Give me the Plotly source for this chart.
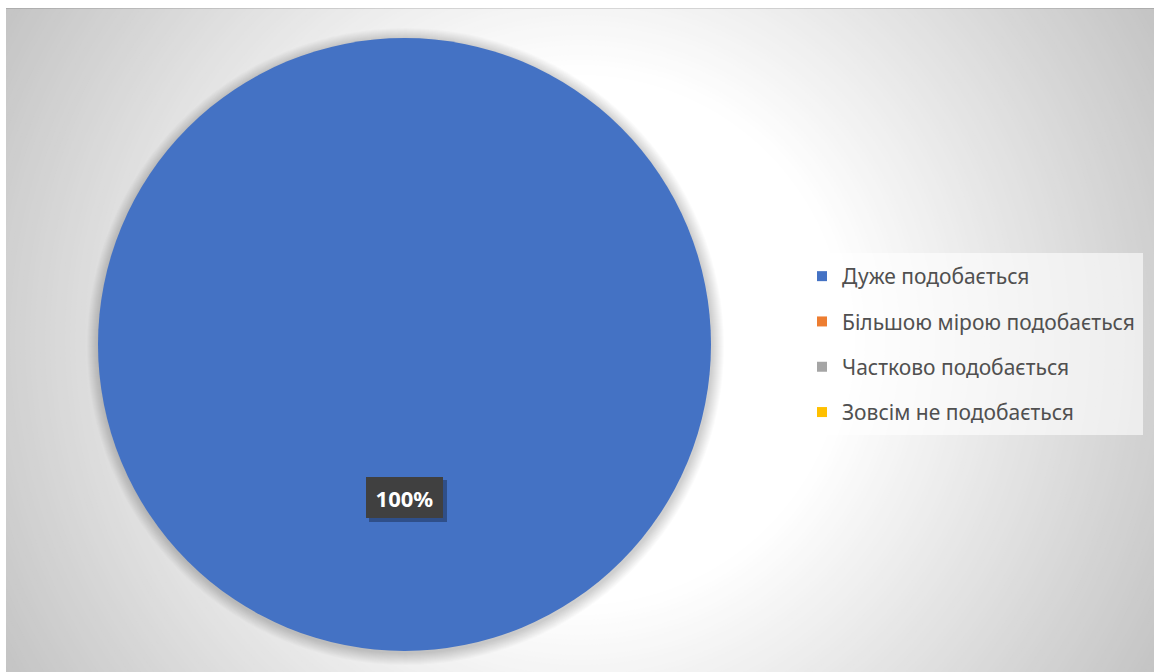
import plotly.graph_objects as go

# ---- data ----
categories = ["Дуже подобається", "Більшою мірою подобається",
              "Частково подобається", "Зовсім не подобається"]
values = [100, 0, 0, 0]
colors = ["#4472C4", "#ED7D31", "#A5A5A5", "#FFC000"]

# ---- geometry (pixels) ----
W, H = 1154, 672
L, T = 6, 8
PW, PH = W - L, H - T


def px(x):
    return (x - L) / PW


def py(y):
    return 1 - (y - T) / PH


pie_l, pie_r, pie_t, pie_b = 98, 711, 38, 651
pie_cx, pie_cy = (pie_l + pie_r) / 2, (pie_t + pie_b) / 2
pie_rad = (pie_r - pie_l) / 2

fig = go.Figure()

fig.add_trace(go.Pie(
    labels=categories, values=values, sort=False,
    marker=dict(colors=colors, line=dict(width=0)),
    textinfo="none", hoverinfo="label+percent",
    domain=dict(x=[px(pie_l), px(pie_r)], y=[py(pie_b), py(pie_t)]),
    showlegend=False,
))

# legend entries
for cat, col in zip(categories, colors):
    fig.add_trace(go.Scatter(
        x=[None], y=[None], mode="markers", name=cat, legendgroup=cat,
        marker=dict(symbol="square", size=10, color=col), showlegend=True,
    ))

shapes = []
# radial gradient background
gcx, gcy = px(580), py(340)
r_out, r_in = 665, 265
r = r_out
while r >= r_in:
    t = (r_out - r) / (r_out - r_in)
    v = int(round(196 + (255 - 196) * t))
    shapes.append(dict(type="circle", xref="paper", yref="paper",
                       xsizemode="pixel", ysizemode="pixel",
                       xanchor=gcx, yanchor=gcy,
                       x0=-r, x1=r, y0=-r, y1=r,
                       fillcolor=f"rgb({v},{v},{v})", line=dict(width=0),
                       layer="below"))
    r -= 5

# white outer margins
shapes.append(dict(type="rect", xref="paper", yref="paper",
                   x0=px(0), x1=px(W), y0=py(T), y1=py(0),
                   fillcolor="white", line=dict(width=0), layer="below"))
shapes.append(dict(type="rect", xref="paper", yref="paper",
                   x0=px(0), x1=px(L), y0=py(H), y1=py(0),
                   fillcolor="white", line=dict(width=0), layer="below"))
shapes.append(dict(type="line", xref="paper", yref="paper",
                   x0=px(L), x1=px(W), y0=py(T + 0.5), y1=py(T + 0.5),
                   line=dict(color="rgba(0,0,0,0.12)", width=1), layer="below"))

# pie soft shadow
for k in range(12, 0, -1):
    rr = pie_rad + k
    shapes.append(dict(type="circle", xref="paper", yref="paper",
                       xsizemode="pixel", ysizemode="pixel",
                       xanchor=px(pie_cx + 1), yanchor=py(pie_cy + 2),
                       x0=-rr, x1=rr, y0=-rr, y1=rr,
                       fillcolor="rgba(0,0,0,0.017)", line=dict(width=0),
                       layer="below"))

# legend box
shapes.append(dict(type="rect", xref="paper", yref="paper",
                   x0=px(802), x1=px(1143), y0=py(435), y1=py(253),
                   fillcolor="rgba(255,255,255,0.6)", line=dict(width=0),
                   layer="below"))

# label shadow
lab_cx, lab_cy, lab_w, lab_h = 404.5, 497.5, 77, 41
shapes.append(dict(type="rect", xref="paper", yref="paper",
                   x0=px(lab_cx - lab_w / 2 + 3), x1=px(lab_cx + lab_w / 2 + 4),
                   y0=py(lab_cy + lab_h / 2 + 4), y1=py(lab_cy - lab_h / 2 + 3),
                   fillcolor="rgba(0,0,0,0.3)", line=dict(width=0),
                   layer="above"))

pct = 100 * values[0] / sum(values)
annotations = [dict(
    x=px(lab_cx), y=py(lab_cy), xref="paper", yref="paper",
    xanchor="center", yanchor="middle", showarrow=False,
    text=f"<b>{pct:.0f}%</b>", bgcolor="#404040", borderpad=0, borderwidth=0,
    width=lab_w, height=lab_h,
    font=dict(family="Noto Sans", size=22, color="white"),
)]

fig.update_layout(
    width=W, height=H,
    margin=dict(l=L, r=0, t=T, b=0, pad=0),
    paper_bgcolor="rgb(196,196,196)",
    plot_bgcolor="rgba(0,0,0,0)",
    xaxis=dict(visible=False), yaxis=dict(visible=False),
    shapes=shapes, annotations=annotations,
    legend=dict(
        x=px(802), y=py(256), xanchor="left", yanchor="top",
        bgcolor="rgba(0,0,0,0)", borderwidth=0,
        font=dict(family="Noto Sans", size=21, color="#505050"),
        tracegroupgap=15, itemclick=False, itemdoubleclick=False,
    ),
    showlegend=True,
)

fig.write_html(
    "out.html",
    config={"displayModeBar": False},
    post_script="document.body.style.margin='0';"
                "document.body.style.overflow='hidden';",
)
